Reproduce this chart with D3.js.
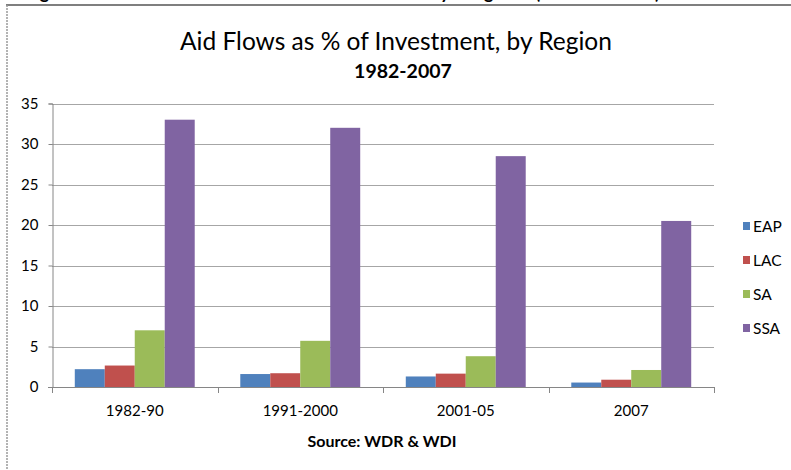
<html>
<head>
<meta charset="utf-8">
<script src="https://d3js.org/d3.v7.min.js"></script>
<style>
  body { margin: 0; background: #fff; }
  text { font-family: Lato, "Open Sans", sans-serif; fill: #000; }
</style>
</head>
<body>
<svg class="chart" width="791" height="470"></svg>
<script>

// values
const periods = ["1982-90", "1991-2000", "2001-05", "2007"];
const regions = ["EAP", "LAC", "SA", "SSA"];
const eap = [2.2, 1.6, 1.3, 0.55];
const lac = [2.65, 1.7, 1.65, 0.9];
const sa = [7.0, 5.7, 3.8, 2.1];
const ssa = [33, 32, 28.5, 20.5];
const yTicks = [0, 5, 10, 15, 20, 25, 30, 35];
const colors = ["#4f81bd", "#c0504d", "#9bbb59", "#8064a2"];

const series = [eap, lac, sa, ssa];
const rows = periods.map((p, i) => ({period: p, vals: regions.map((r, j) => ({region: r, v: series[j][i]}))}));

const svg = d3.select(".chart");

// cropped caption above the chart box (only descenders show)
svg.append("text").attr("x", 20).attr("y", -1)
    .attr("textLength", 640).attr("lengthAdjust", "spacing")
    .style("font-size", "18px").style("font-weight", "bold")
    .text("Figure 3: Aid Flows as % of Investment by Region (1982-2007)");

// frame
svg.append("line").attr("x1", 6).attr("x2", 791).attr("y1", 5).attr("y2", 5)
    .attr("stroke", "#7f7f7f").attr("stroke-width", 2);
svg.append("line").attr("x1", 7).attr("x2", 7).attr("y1", 5).attr("y2", 470)
    .attr("stroke", "#9a9a9a").attr("stroke-width", 1.5).attr("stroke-dasharray", "2,1");

const x0 = d3.scaleBand()
    .domain(periods)
    .range([52, 714]);

const x1 = d3.scaleBand()
    .domain(regions)
    .range([0, x0.bandwidth()])
    .paddingOuter(0.76);

const y = d3.scaleLinear()
    .domain([0, 35])
    .range([387, 103.5]);

const color = d3.scaleOrdinal().domain(regions).range(colors);

// gridlines
svg.append("g")
  .selectAll("line")
  .data(yTicks.filter(d => d > 0))
  .join("line")
    .attr("x1", 52).attr("x2", 714)
    .attr("y1", d => Math.round(y(d)) + 0.5).attr("y2", d => Math.round(y(d)) + 0.5)
    .attr("stroke", "#a6a6a6");

// y axis
const yAxis = svg.append("g")
    .attr("transform", "translate(52.5,0)")
    .call(d3.axisLeft(y).tickValues(yTicks).tickSize(4).tickPadding(10).tickFormat(d3.format("d")));
yAxis.select(".domain").attr("stroke", "#868686");
yAxis.selectAll(".tick line").attr("stroke", "#868686");
yAxis.selectAll("text").style("font-size", "15px").attr("fill", "#000");

// bars
svg.append("g")
  .selectAll("g")
  .data(rows)
  .join("g")
    .attr("transform", d => `translate(${x0(d.period)},0)`)
  .selectAll("rect")
  .data(d => d.vals)
  .join("rect")
    .attr("x", d => x1(d.region))
    .attr("width", x1.bandwidth())
    .attr("y", d => y(d.v))
    .attr("height", d => y(0) - y(d.v))
    .attr("fill", d => color(d.region));

// x axis
const xAxis = svg.append("g")
    .attr("transform", `translate(0,${Math.round(y(0)) + 0.5})`)
    .call(d3.axisBottom(x0).tickSize(0).tickPadding(18));
xAxis.select(".domain").attr("stroke", "#868686").attr("d", "M48,0H714");
xAxis.selectAll("text").style("font-size", "15px").attr("fill", "#000");
svg.append("g")
  .selectAll("line")
  .data(periods.concat(["end"]))
  .join("line")
    .attr("x1", d => Math.round(d === "end" ? 714 : x0(d)) + 0.5)
    .attr("x2", d => Math.round(d === "end" ? 714 : x0(d)) + 0.5)
    .attr("y1", y(0)).attr("y2", y(0) + 6)
    .attr("stroke", "#868686");

// titles
svg.append("text").attr("x", 396).attr("y", 50).attr("text-anchor", "middle")
    .style("font-size", "24.5px").text("Aid Flows as % of Investment, by Region");
svg.append("text").attr("x", 403).attr("y", 78).attr("text-anchor", "middle")
    .style("font-size", "19.5px").style("font-weight", "bold").text("1982-2007");
svg.append("text").attr("x", 382).attr("y", 447).attr("text-anchor", "middle")
    .style("font-size", "16px").style("font-weight", "bold").text("Source: WDR & WDI");

// legend
const legend = svg.append("g")
  .selectAll("g")
  .data(regions)
  .join("g")
    .attr("transform", (d, i) => `translate(743,${226 + i * 34})`);
legend.append("rect").attr("x", 0).attr("y", -4).attr("width", 7).attr("height", 8)
    .attr("fill", d => color(d));
legend.append("text").attr("x", 10).attr("y", 5.5)
    .style("font-size", "15.5px").text(d => d);

</script>
</body>
</html>
